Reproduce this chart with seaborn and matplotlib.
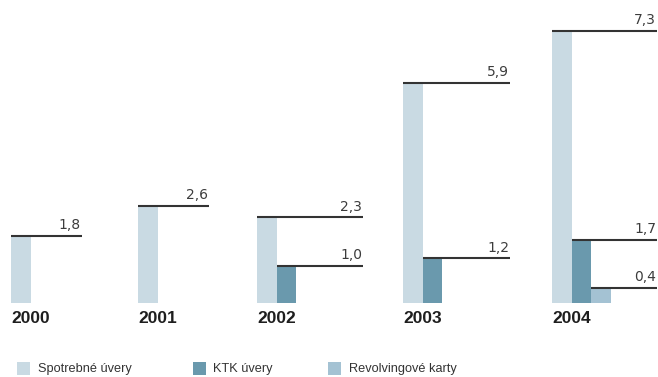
import matplotlib
matplotlib.use("Agg")
import matplotlib.pyplot as plt
from matplotlib.patches import Rectangle
import numpy as np
import pandas as pd
import seaborn as sns

# --- data -----------------------------------------------------------------
years = ["2000", "2001", "2002", "2003", "2004"]
series_names = ["Spotrebné úvery", "KTK úvery", "Revolvingové karty"]
spotrebne_uvery = [1.8, 2.6, 2.3, 5.9, 7.3]
ktk_uvery = [None, None, 1.0, 1.2, 1.7]
revolvingove_karty = [None, None, None, None, 0.4]
colors = ["#c9dae3", "#6a99ad", "#a4c2d3"]

# --- layout (pixels on a 658 x 377 canvas) --------------------------------
W, H = 658, 377
BASE_PX = 303            # pixel row of the zero line, from the top
PX_PER_UNIT = 37.3
BAR_W = 19.5
group_left = [11, 138, 257, 403, 552]
line_end = [82, 209, 363, 510, 657]

sns.set_theme(style="white")
plt.rcParams["font.family"] = ["DejaVu Sans"]

rows = []
for gi, year in enumerate(years):
    for si, vals in enumerate([spotrebne_uvery, ktk_uvery, revolvingove_karty]):
        v = vals[gi]
        if v is None:
            continue
        left = group_left[gi] + si * BAR_W
        rows.append({"year": year, "series": series_names[si], "value": v,
                     "pos": left + BAR_W / 2, "left": left, "end": line_end[gi]})
df = pd.DataFrame(rows)

fig = plt.figure(figsize=(W / 100, H / 100), dpi=100)
ax = fig.add_axes([0, 0, 1, 1])

sns.barplot(data=df, x="pos", y="value", hue="series", hue_order=series_names,
            palette=colors, native_scale=True, dodge=False, width=1.0,
            saturation=1, linewidth=0, legend=False, ax=ax)

ax.set_xlim(0, W)
ax.set_ylim(-(H - BASE_PX) / PX_PER_UNIT, BASE_PX / PX_PER_UNIT)
ax.set_axis_off()

# leader lines and value labels
for _, r in df.iterrows():
    ax.hlines(r["value"], r["left"], r["end"], color="#333333", lw=1.5, zorder=3)
    ax.annotate(f"{r['value']:.1f}".replace(".", ","), (r["end"] - 1, r["value"]),
                xytext=(0, 2.6), textcoords="offset points", ha="right",
                va="bottom", fontsize=10, color="#3c3c3c")

# year labels under each group
for gi, year in enumerate(years):
    ax.annotate(year, (group_left[gi], 0), xytext=(0, -20 * 0.72),
                textcoords="offset points", ha="left", va="baseline",
                fontsize=12.5, fontweight="bold", color="#1e1e1e",
                family=["Liberation Sans", "DejaVu Sans"])

# legend along the bottom
sq_x = [17, 193, 328]
txt_x = [38, 213, 349]
for i, name in enumerate(series_names):
    fig.add_artist(Rectangle((sq_x[i] / W, 1 - 375 / H), 13 / W, 13 / H,
                             transform=fig.transFigure, color=colors[i], lw=0))
    fig.text(txt_x[i] / W, 1 - 372 / H, name, ha="left", va="baseline",
             fontsize=9.2, color="#333333",
             family=["Liberation Sans Narrow", "Liberation Sans", "DejaVu Sans"])

fig.savefig("out.png", dpi=100)
